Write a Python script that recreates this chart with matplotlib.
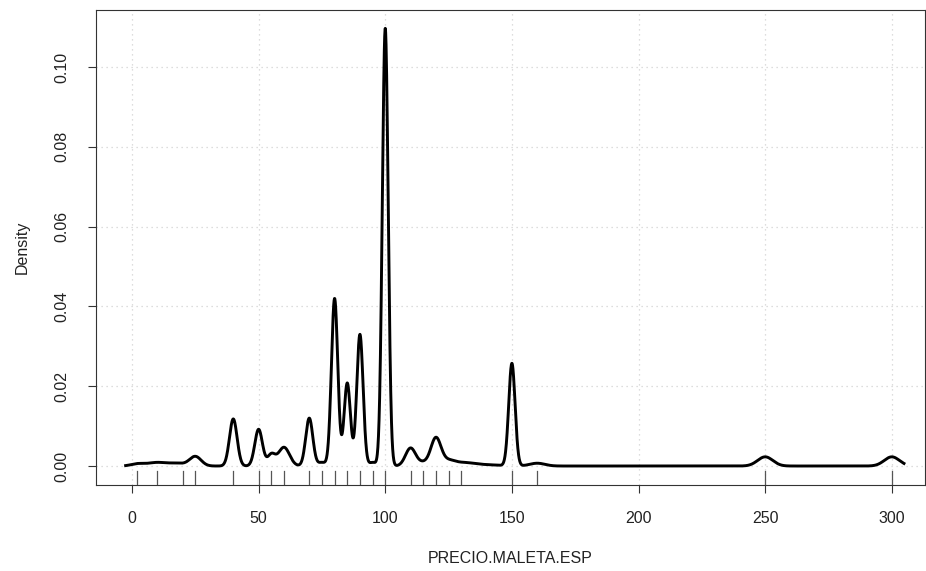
import numpy as np
import matplotlib
matplotlib.use("Agg")
import matplotlib.pyplot as plt
import matplotlib.transforms as mtransforms

# Observed values (rug positions)
rug_values = [2, 10, 20, 25, 40, 50, 55, 60, 70, 75, 80, 85, 90, 95, 100,
              110, 115, 120, 125, 130, 150, 160, 250, 300]

# Density components: centre, peak height, bandwidth
comp_centers = [2, 10, 18, 25, 40, 50, 55, 60, 70, 75, 80, 85, 90, 95, 100,
                110, 115, 120, 125, 131, 140, 150, 160, 250, 300]
comp_heights = [0.0005, 0.0009, 0.0006, 0.0024, 0.0118, 0.0092, 0.0028, 0.0047,
                0.0120, 0.0009, 0.0420, 0.0208, 0.0330, 0.0009, 0.1097,
                0.0045, 0.0008, 0.0070, 0.0012, 0.0008, 0.0003, 0.0257, 0.0007,
                0.0023, 0.0023]
comp_bw = [2.5, 4.0, 3.0, 2.3, 1.5, 1.5, 1.5, 2.2, 1.4, 1.5, 1.25, 1.25, 1.25, 1.3, 1.15,
           2.0, 2.0, 2.0, 2.5, 4.0, 5.0, 1.25, 3.0, 3.0, 3.0]
x_range = (-2.5, 304.8)

x_ticks = [0, 50, 100, 150, 200, 250, 300]
y_ticks = [0.00, 0.02, 0.04, 0.06, 0.08, 0.10]
y_ticklabels = ["0.00", "0.02", "0.04", "0.06", "0.08", "0.10"]

plt.rcParams['font.family'] = ['Liberation Sans', 'DejaVu Sans']

xs = np.linspace(x_range[0], x_range[1], 4000)
dens = np.zeros_like(xs)
for c, h, s in zip(comp_centers, comp_heights, comp_bw):
    dens += h * np.exp(-0.5 * ((xs - c) / s) ** 2)

fig = plt.figure(figsize=(9.26, 5.71), dpi=100)
ax = fig.add_axes([96 / 926, 86 / 571, 829 / 926, 475 / 571])

ax.set_xlim(-14.2, 313.1)
ax.set_ylim(-0.00476, 0.1143)

for xv in x_ticks:
    ax.axvline(xv, color='#d3d3d3', lw=0.9, ls=(0, (1, 3)), zorder=0)
for yv in y_ticks:
    ax.axhline(yv, color='#d3d3d3', lw=0.9, ls=(0, (1, 3)), zorder=0)

ax.plot(xs, dens, color='black', lw=2.1, zorder=3)

trans = mtransforms.blended_transform_factory(ax.transData, ax.transAxes)
for rv in rug_values:
    ax.plot([rv, rv], [0, 0.03], transform=trans, color='#555555', lw=0.9, zorder=2)

ax.set_xticks(x_ticks)
ax.set_xticklabels([str(v) for v in x_ticks])
ax.set_yticks(y_ticks)
ax.set_yticklabels(y_ticklabels, rotation=90, va='center')
ax.tick_params(axis='both', direction='out', length=6, width=0.8, colors='#333333',
               labelsize=11.5, labelcolor='#222222')
ax.tick_params(axis='x', pad=13)
ax.tick_params(axis='y', pad=13)

for sp in ax.spines.values():
    sp.set_color('#333333')
    sp.set_linewidth(0.8)

ax.set_xlabel("PRECIO.MALETA.ESP", fontsize=11.5, color='#222222', labelpad=18)
ax.set_ylabel("Density", fontsize=11.5, color='#222222', labelpad=18)

fig.savefig("out.png", dpi=100, facecolor='white')
